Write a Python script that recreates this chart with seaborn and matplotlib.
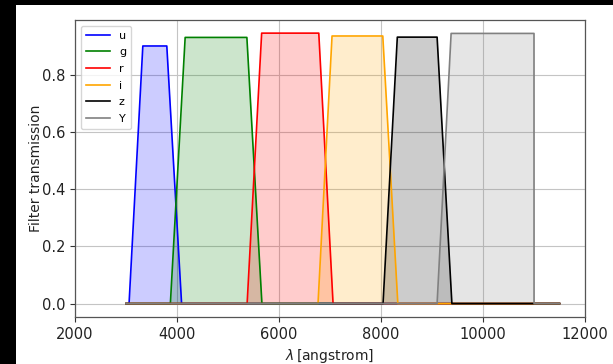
import numpy as np
import pandas as pd
import matplotlib
matplotlib.use("Agg")
import matplotlib.pyplot as plt
from matplotlib.patches import Rectangle
import seaborn as sns

# ---- data ----
bands = ["u", "g", "r", "i", "z", "Y"]
colors = ["blue", "green", "red", "orange", "black", "gray"]

u_wave = [3000, 3060, 3330, 3800, 4090, 11500]
u_trans = [0.0, 0.0, 0.902, 0.902, 0.0, 0.0]
g_wave = [3000, 3870, 4160, 5370, 5665, 11500]
g_trans = [0.0, 0.0, 0.932, 0.932, 0.0, 0.0]
r_wave = [3000, 5375, 5660, 6780, 7060, 11500]
r_trans = [0.0, 0.0, 0.947, 0.947, 0.0, 0.0]
i_wave = [3000, 6765, 7040, 8035, 8330, 11500]
i_trans = [0.0, 0.0, 0.937, 0.937, 0.0, 0.0]
z_wave = [3000, 8040, 8320, 9100, 9390, 11500]
z_trans = [0.0, 0.0, 0.933, 0.933, 0.0, 0.0]
Y_wave = [3000, 9100, 9375, 11000, 11001, 11500]
Y_trans = [0.0, 0.0, 0.946, 0.946, 0.0, 0.0]

waves = [u_wave, g_wave, r_wave, i_wave, z_wave, Y_wave]
trans = [u_trans, g_trans, r_trans, i_trans, z_trans, Y_trans]

xticks = [2000, 4000, 6000, 8000, 10000, 12000]
yticks = [0.0, 0.2, 0.4, 0.6, 0.8]

frames = []
for b, w, t in zip(bands, waves, trans):
    frames.append(pd.DataFrame({"wave": w, "trans": t, "band": b}))
df = pd.concat(frames, ignore_index=True)

plt.rcParams["font.family"] = ["DejaVu Sans"]

fig = plt.figure(figsize=(6.13, 3.64), dpi=100, facecolor="black")
bg = Rectangle((16 / 613, 0), 1 - 16 / 613, (364 - 5) / 364,
               transform=fig.transFigure, facecolor="white",
               edgecolor="none", zorder=-10)
fig.patches.append(bg)
ax = fig.add_axes([75 / 613, (364 - 317) / 364, (585 - 75) / 613, (317 - 20) / 364])
ax.set_zorder(5)
ax.set_facecolor("white")

palette = dict(zip(bands, colors))
sns.lineplot(data=df, x="wave", y="trans", hue="band", palette=palette,
             hue_order=bands, sort=False, estimator=None, linewidth=1.2, ax=ax)
for b, w, t, c in zip(bands, waves, trans, colors):
    ax.fill_between(w, t, color=c, alpha=0.2, linewidth=0)

ax.set_xlim(2000, 12000)
ax.set_ylim(-0.047, 0.993)
ax.set_xticks(xticks)
ax.set_yticks(yticks)
ax.tick_params(labelsize=10.5, length=3.5, width=0.8, colors="#333333", labelcolor="#222222")
ax.grid(True, color="#c4c4c4", linewidth=0.8)
ax.set_axisbelow(True)
for s in ax.spines.values():
    s.set_color("#555555")
    s.set_linewidth(0.9)
ax.set_xlabel(r"$\lambda\,$[angstrom]", fontsize=10, color="#222222", labelpad=4)
ax.set_ylabel("Filter transmission", fontsize=10, color="#222222", labelpad=-1)

leg = ax.legend(loc="upper left", fontsize=8, handlelength=2.2, framealpha=0.8,
                borderpad=0.45, labelspacing=0.6)
leg.get_frame().set_edgecolor("#cccccc")

fig.savefig("out.png", dpi=100, facecolor=fig.get_facecolor())
